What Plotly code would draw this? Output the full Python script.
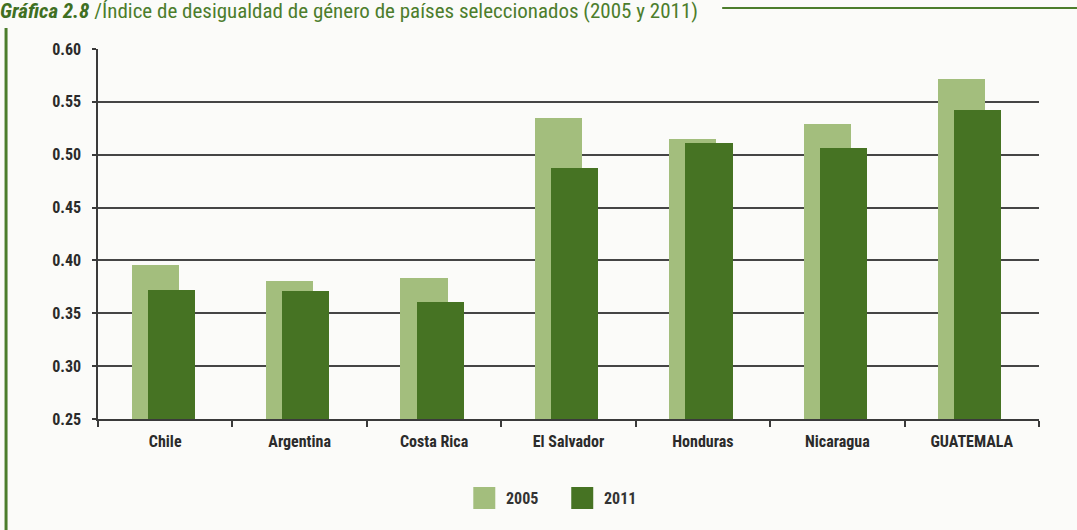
import plotly.graph_objects as go

# Índice de desigualdad de género, países seleccionados
paises = ["Chile", "Argentina", "Costa Rica", "El Salvador", "Honduras", "Nicaragua", "GUATEMALA"]
valores_2005 = [0.396, 0.381, 0.383, 0.535, 0.515, 0.529, 0.572]
valores_2011 = [0.372, 0.371, 0.361, 0.487, 0.511, 0.506, 0.542]
ticks_y = [0.25, 0.30, 0.35, 0.40, 0.45, 0.50, 0.55, 0.60]

verde_claro = "#a3be7d"
verde_oscuro = "#467323"
verde_titulo = "#4c7d2c"
fuente = "Liberation Sans Narrow, Roboto Condensed, DejaVu Sans Condensed, Arial Narrow, Roboto, sans-serif"

W, H = 1077, 530
ml, mr, mt, mb = 97.5, 38, 49, 111
pw, ph = W - ml - mr, H - mt - mb


def px_x(p):
    return (p - ml) / pw


def px_y(p):
    return (H - mb - p) / ph


fig = go.Figure()
fig.add_trace(go.Bar(
    x=paises, y=valores_2005, name="2005",
    marker=dict(color=verde_claro, line=dict(width=0)),
    width=0.35, offset=-0.25, showlegend=False,
))
fig.add_trace(go.Bar(
    x=paises, y=valores_2011, name="2011",
    marker=dict(color=verde_oscuro, line=dict(width=0)),
    width=0.35, offset=-0.13, showlegend=False,
))

shapes = [
    # línea a la derecha del título
    dict(type="line", xref="paper", yref="paper",
         x0=px_x(722), x1=px_x(1077), y0=px_y(8), y1=px_y(8),
         line=dict(color=verde_titulo, width=2)),
    # filete vertical izquierdo
    dict(type="line", xref="paper", yref="paper",
         x0=px_x(5.5), x1=px_x(5.5), y0=px_y(28), y1=px_y(530),
         line=dict(color=verde_titulo, width=3)),
]

annotations = []
# leyenda
for nombre, color, x0 in [("2005", verde_claro, 473), ("2011", verde_oscuro, 571)]:
    shapes.append(dict(type="rect", xref="paper", yref="paper",
                       x0=px_x(x0), x1=px_x(x0 + 22), y0=px_y(509), y1=px_y(487),
                       fillcolor=color, line=dict(width=0)))
    annotations.append(dict(xref="paper", yref="paper", x=px_x(x0 + 31), y=px_y(498),
                            text="<b>" + nombre + "</b>", showarrow=False,
                            xanchor="left", yanchor="middle",
                            font=dict(family=fuente, size=16, color="#333333")))

fig.update_layout(
    width=W, height=H,
    margin=dict(l=ml, r=mr, t=mt, b=mb, pad=0),
    paper_bgcolor="#fbfbf9", plot_bgcolor="#fbfbf9",
    barmode="overlay", bargap=0,
    title=dict(
        text="<b><i><span style='color:#3f6f22'>Gráfica 2.8</span></i></b> /Índice de desigualdad de género de países seleccionados (2005 y 2011)",
        font=dict(family=fuente, size=21, color=verde_titulo),
        xref="container", x=0.0, xanchor="left",
        yref="container", y=1 - 11 / H, yanchor="middle",
    ),
    xaxis=dict(
        type="category", tickson="boundaries",
        ticks="outside", ticklen=6, tickwidth=1.5, tickcolor="#3a3a3a",
        showline=True, linecolor="#3a3a3a", linewidth=1.5,
        showgrid=False,
        tickfont=dict(family=fuente, size=16, color="#2b2b2b", weight="bold"),
        ticklabelstandoff=7,
    ),
    yaxis=dict(
        range=[0.25, 0.60], tickvals=ticks_y, tickformat=".2f",
        ticks="outside", ticklen=4, tickwidth=1.5, tickcolor="#3a3a3a",
        showline=True, linecolor="#3a3a3a", linewidth=1.5,
        showgrid=True, gridcolor="#454545", gridwidth=1.5,
        zeroline=False,
        tickfont=dict(family=fuente, size=16, color="#2b2b2b", weight="bold"),
        ticklabelstandoff=8,
    ),
    shapes=shapes,
    annotations=annotations,
    font=dict(family=fuente),
)

fig.write_html("out.html")
